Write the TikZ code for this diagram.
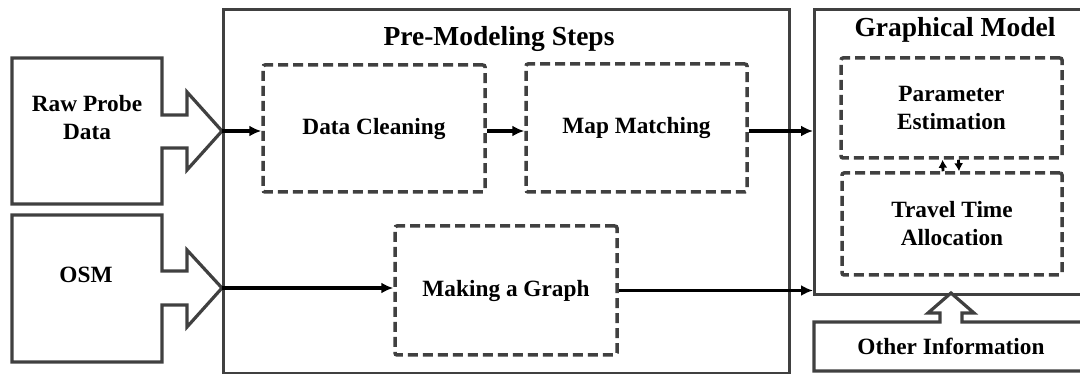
\documentclass[tikz,border=0pt]{standalone}
\usepackage{fontspec}
\setmainfont{Liberation Serif}
\usetikzlibrary{arrows.meta}
\definecolor{edge}{HTML}{404040}
\tikzset{
  body/.style={font=\bfseries\fontsize{23.3}{28}\selectfont, align=center, inner sep=0pt},
  title/.style={font=\bfseries\fontsize{27.5}{33}\selectfont, inner sep=0pt},
  solidbox/.style={draw=edge, line width=3.2pt, fill=white},
  dbox/.style={draw=edge, line width=3.5pt, dash pattern=on 10pt off 5pt, rounded corners=2pt, inner sep=0pt, body},
  conn/.style={draw=black, line width=3.3pt, -{Latex[length=12pt,width=11pt]}},
}
\begin{document}
\begin{tikzpicture}[x=1pt,y=-1pt]
\useasboundingbox (0,0) rectangle (1080,374);
\clip (0,0) rectangle (1080,374);
% containers
\node[solidbox, minimum width=566pt, minimum height=364pt, anchor=north west, inner sep=0pt] (pre) at (222,8) {};
\node[solidbox, minimum width=285pt, minimum height=285pt, anchor=north west, inner sep=0pt] (gm) at (813,8) {};
\node[title, anchor=base] (pretitle) at (499,46) {Pre-Modeling Steps};
\node[title, anchor=base] (gmtitle) at (955,37) {Graphical Model};
% input shapes
\draw[draw=edge, line width=3.2pt, line join=miter]
  (12,58) -- (162,58) -- (162,115) -- (187,115) -- (187,92) -- (222,131)
  -- (187,170) -- (187,148) -- (162,148) -- (162,204) -- (12,204) -- cycle;
\coordinate (rawtip) at (222,131);
\node[body] (raw) at (87,118) {Raw Probe\\Data};
\draw[draw=edge, line width=3.2pt, line join=miter]
  (12,215) -- (162,215) -- (162,271) -- (187,271) -- (187,250) -- (222,288)
  -- (187,327) -- (187,305) -- (162,305) -- (162,362) -- (12,362) -- cycle;
\coordinate (osmtip) at (222,288);
\node[body] (osm) at (86,275) {OSM};
\draw[draw=edge, line width=3.2pt, line join=miter, fill=white]
  (814,322) -- (940,322) -- (940,313) -- (928,313) -- (951,293) -- (974,313)
  -- (962,313) -- (962,322) -- (1095,322) -- (1095,371) -- (814,371) -- cycle;
\node[body] (other) at (951,346) {Other Information};
% steps
\node[dbox, minimum width=222pt, minimum height=127pt] (dc) at (374,128.5) {Data Cleaning};
\node[dbox, minimum width=221pt, minimum height=128pt] (mm) at (636.5,128) {Map Matching};
\node[dbox, minimum width=222pt, minimum height=129pt] (mg) at (506,290.5) {Making a Graph};
\node[dbox, minimum width=221pt, minimum height=100pt] (pe) at (951.5,108) {Parameter\\Estimation};
\node[dbox, minimum width=220pt, minimum height=102pt] (tt) at (952,224) {Travel Time\\Allocation};
% connectors
\draw[conn] (rawtip) -- (rawtip -| dc.west);
\draw[conn] (dc.east |- rawtip) -- (mm.west |- rawtip);
\draw[conn] (mm.east |- rawtip) -- (gm.west |- rawtip);
\draw[conn] (osmtip) -- (osmtip -| mg.west);
\draw[conn] (mg.east) -- (mg.east -| gm.west);
\draw[conn, line width=2.8pt, -{Latex[length=8pt,width=9pt]}] ([xshift=-9pt]tt.north) -- ([xshift=-9pt]pe.south);
\draw[conn, line width=2.8pt, -{Latex[length=8pt,width=9pt]}] ([xshift=7pt]pe.south) -- ([xshift=7pt]tt.north);
\end{tikzpicture}
\end{document}
